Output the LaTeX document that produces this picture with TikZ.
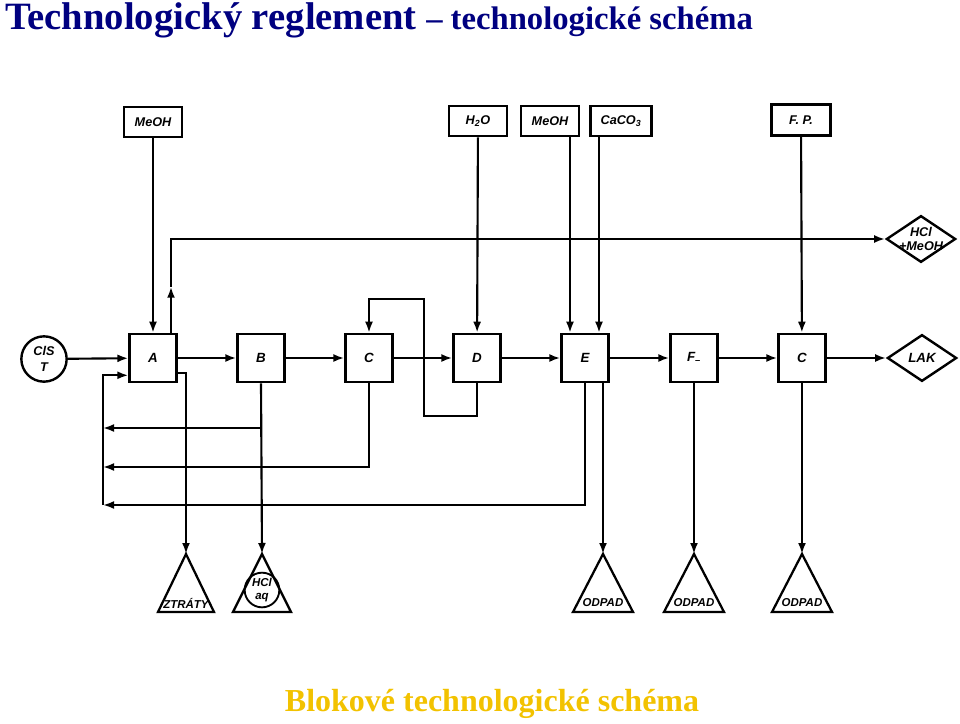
\documentclass[tikz,border=0pt]{standalone}
\usepackage{fontspec}
\setmainfont{Liberation Serif}
\setsansfont{Liberation Sans}
\usepackage{tikz}
\usepackage{xcolor}
\usetikzlibrary{calc,arrows.meta,shapes.geometric}
\definecolor{title_blue}{RGB}{0,0,128}
\definecolor{title_gold}{RGB}{242,194,0}
\tikzset{
    flow/.style={-{Latex[length=2.9mm,width=2.1mm]},line width=1.6pt},
    flow_line/.style={line width=1.6pt},
    block/.style={draw,line width=1.9pt,minimum width=35pt,minimum height=36pt,inner sep=0pt,font=\sffamily\itshape\bfseries\fontsize{10}{11}\selectfont},
    feed_box/.style={draw,line width=1.9pt,minimum width=43.5pt,minimum height=22.5pt,inner sep=0pt,font=\sffamily\itshape\bfseries\fontsize{9.5}{10}\selectfont},
    product/.style={draw,diamond,line width=1.8pt,minimum width=52pt,minimum height=35pt,inner sep=0pt,font=\sffamily\itshape\bfseries\fontsize{10}{11}\selectfont},
    label_text/.style={inner sep=0pt,font=\sffamily\itshape\bfseries\fontsize{9.5}{10}\selectfont},
    sink_text/.style={inner sep=0pt,font=\sffamily\itshape\bfseries\fontsize{8.6}{9}\selectfont},
    sink/.style={line width=1.7pt,line join=miter},
}

\begin{document}
\begin{tikzpicture}[x=0.75pt,y=-0.75pt]
  \useasboundingbox (0,0) rectangle (960,724);
  % Titles
  \node[anchor=base west,inner sep=0pt,text=title_blue] (title) at (5,30)
    {\bfseries\fontsize{29}{30}\selectfont Technologický reglement \fontsize{24.5}{26}\selectfont – technologické schéma};
  \node[anchor=base,inner sep=0pt,text=title_gold] (subtitle) at (492,711)
    {\bfseries\fontsize{24}{26}\selectfont Blokové technologické schéma};
  % Feed boxes
  \node[feed_box] (meoh_a) at (153,122) {MeOH};
  \node[feed_box] (h2o) at (478,121) {H\textsubscript{2}O};
  \node[feed_box] (meoh_b) at (550,121) {MeOH};
  \node[feed_box,minimum width=45.5pt] (caco3) at (621,121) {CaCO\textsubscript{3}};
  \node[feed_box,minimum width=44pt,minimum height=23pt] (fp) at (801,120) {F. P.};
  % Main line
  \node[draw,circle,line width=1.8pt,minimum size=34pt,inner sep=0pt,align=center,
        font=\sffamily\itshape\bfseries\fontsize{9.5}{11.5}\selectfont] (cls) at (44,359) {ClS\\T};
  \node[block] (a) at (153,358) {A};
  \node[block] (b) at (261,358) {B};
  \node[block] (c) at (369,358) {C};
  \node[block] (d) at (477,358) {D};
  \node[block] (e) at (585,358) {E};
  \node[block] (f) at (694,358) {F\textsubscript{\textendash}};
  \node[block] (g) at (802,358) {C};
  \node[product] (lak) at (922,358) {LAK};
  \node[product] (hcl) at (921,239) {};
  \node[label_text,align=center] (hcl_text) at (hcl) {HCl\\+MeOH};
  % Sinks
  \coordinate (ztraty) at (186,554);
  \coordinate (hcl_aq) at (262,554);
  \coordinate (odpad_e) at (603,554);
  \coordinate (odpad_f) at (694,554);
  \coordinate (odpad_g) at (802,554);
  \draw[sink] (ztraty) -- ++(28,58) -- ++(-56,0) -- cycle;
  \node[sink_text] (ztraty_text) at ($(ztraty)+(0,49)$) {ZTRÁTY};
  \draw[sink] (hcl_aq) -- ++(29,58) -- ++(-58,0) -- cycle;
  \node[draw,circle,line width=1.4pt,minimum size=26pt,inner sep=0pt,align=center,
        font=\sffamily\itshape\bfseries\fontsize{8.6}{9.6}\selectfont] (hcl_aq_text) at ($(hcl_aq)+(0,36)$) {HCl\\aq};
  \foreach \s in {odpad_e,odpad_f,odpad_g}{
    \draw[sink] (\s) -- ++(30,58) -- ++(-60,0) -- cycle;
    \node[sink_text] at ($(\s)+(0,49)$) {ODPAD};
  }
  % Main flow
  \draw[flow] (cls) -- (a);
  \draw[flow] (a) -- (b);
  \draw[flow] (b) -- (c);
  \draw[flow] (c) -- (d);
  \draw[flow] (d) -- (e);
  \draw[flow] (e) -- (f);
  \draw[flow] (f) -- (g);
  \draw[flow] (g) -- (lak);
  % Feeds
  \draw[flow] (meoh_a) -- (a);
  \draw[flow] (h2o) -- (d);
  \draw[flow] ($(meoh_b.south)+(20,0)$) -- ($(e.north)+(-15,0)$);
  \draw[flow] ($(caco3.south)+(-22,0)$) -- ($(e.north)+(14,0)$);
  \draw[flow] (fp) -- (g);
  % Off-gas to HCl + MeOH
  \draw[flow] ($(a.north)+(18,0)$) -- ++(0,-46);
  \draw[flow] ($(a.north)+(18,-46)$) |- (hcl.west);
  % Loops around C and D
  \coordinate (cd_split) at (424,358);
  \draw[flow] (cd_split) -- (424,299) -| (c.north);
  \draw[flow_line] (cd_split) -- (424,416) -| (d.south);
  % Returns to A
  \coordinate (ret_1) at (103,428);
  \coordinate (ret_2) at (103,467);
  \coordinate (ret_3) at (103,505);
  \draw[flow] (b.south |- ret_1) -- (ret_1);
  \draw[flow] (c.south) |- (ret_2);
  \draw[flow] (e.south) |- (ret_3);
  \draw[flow] (ret_3) |- ($(a.south west)+(0,-8)$);
  \draw[flow] ($(a.south east)+(0,-10)$) -| (ztraty);
  \draw[flow] (b.south) -- (hcl_aq);
  \draw[flow] ($(e.south)+(18,0)$) -- (odpad_e);
  \draw[flow] (f.south) -- (odpad_f);
  \draw[flow] (g.south) -- (odpad_g);
\end{tikzpicture}
\end{document}
